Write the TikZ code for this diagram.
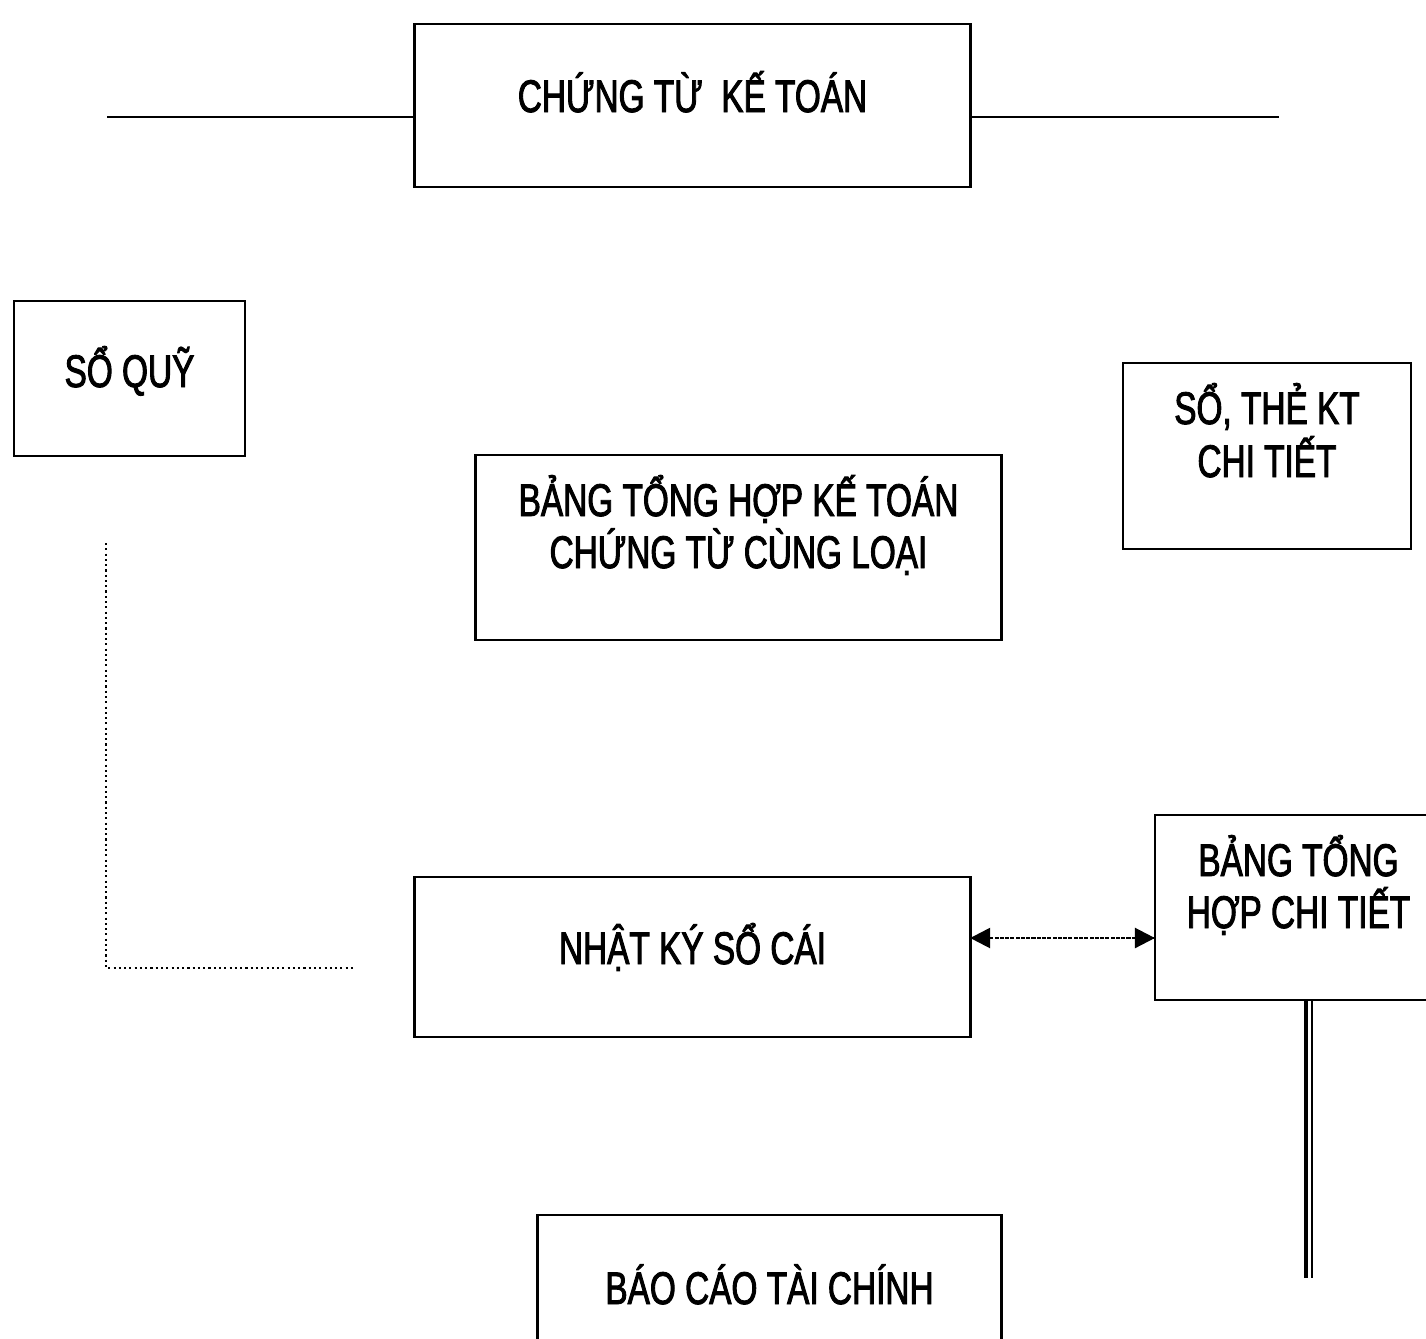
\documentclass[tikz,border=0pt]{standalone}
\usepackage{fontspec}
\setmainfont{Liberation Sans}[FakeStretch=0.73,FakeBold=2]
\usetikzlibrary{arrows.meta}
\tikzset{
  box/.style={draw, line width=0.8pt, inner sep=0pt, outer sep=0pt},
  txt/.style={inner sep=0pt, anchor=base, font=\fontsize{13pt}{15pt}\selectfont},
  ln/.style={line width=0.8pt},
  dots/.style={line width=0.7pt, dash pattern=on 0.6pt off 0.9pt},
  tip/.style={-{Triangle[length=0.2cm,width=0.2cm]}}
}
\begin{document}
\begin{tikzpicture}[x=0.01cm,y=-0.01cm]
\useasboundingbox (0,0) rectangle (1426,1338);
% boxes
\node[box, minimum width=5.55cm, minimum height=1.63cm] (ct) at (692.5,105.5) {};
\node[box, minimum width=2.31cm, minimum height=1.55cm] (sq) at (129.5,378.5) {};
\node[box, minimum width=5.25cm, minimum height=1.85cm] (bth) at (738.5,547.5) {};
\node[box, minimum width=2.88cm, minimum height=1.86cm] (st) at (1267,456) {};
\node[box, minimum width=2.87cm, minimum height=1.85cm] (btct) at (1298.5,907.5) {};
\node[box, minimum width=5.55cm, minimum height=1.60cm] (nk) at (692.5,957) {};
\node[box, minimum width=4.63cm, minimum height=1.65cm] (bc) at (769.5,1297.5) {};
% texts
\node[txt] (t1) at (692.5,112) {CHỨNG TỪ~ KẾ TOÁN};
\node[txt] (t2) at (129.5,387) {SỔ QUỸ};
\node[txt] (t3a) at (738.5,516) {BẢNG TỔNG HỢP KẾ TOÁN};
\node[txt] (t3b) at (738.5,568) {CHỨNG TỪ CÙNG LOẠI};
\node[txt] (t4a) at (1267,424) {SỔ, THẺ KT};
\node[txt] (t4b) at (1267,477) {CHI TIẾT};
\node[txt] (t5a) at (1298.5,876) {BẢNG TỔNG};
\node[txt] (t5b) at (1298.5,928) {HỢP CHI TIẾT};
\node[txt] (t6) at (692.5,964) {NHẬT KÝ SỔ CÁI};
\node[txt] (t7) at (769.5,1304) {BÁO CÁO TÀI CHÍNH};
% coordinates
\coordinate (hl) at (107,117);
\coordinate (hr) at (1279,117);
\coordinate (ay) at (0,938);
\coordinate (d1) at (106,543);
\coordinate (d2) at (106,968);
\coordinate (d3) at (355,968);
\coordinate (e1) at (1306,1278);
\coordinate (e2) at (1312,1278);
% connectors
\draw[ln] (ct.west |- hl) -- (hl);
\draw[ln] (ct.east |- hr) -- (hr);
\draw[dots] (d1) -- (d2) -- (d3);
\draw[dots, tip] (nk.east |- ay) -- (btct.west |- ay);
\draw[dots, tip] (btct.west |- ay) -- (nk.east |- ay);
\draw[line width=1.2pt] (btct.south -| e1) -- (e1);
\draw[line width=0.6pt] (btct.south -| e2) -- (e2);
\end{tikzpicture}
\end{document}
